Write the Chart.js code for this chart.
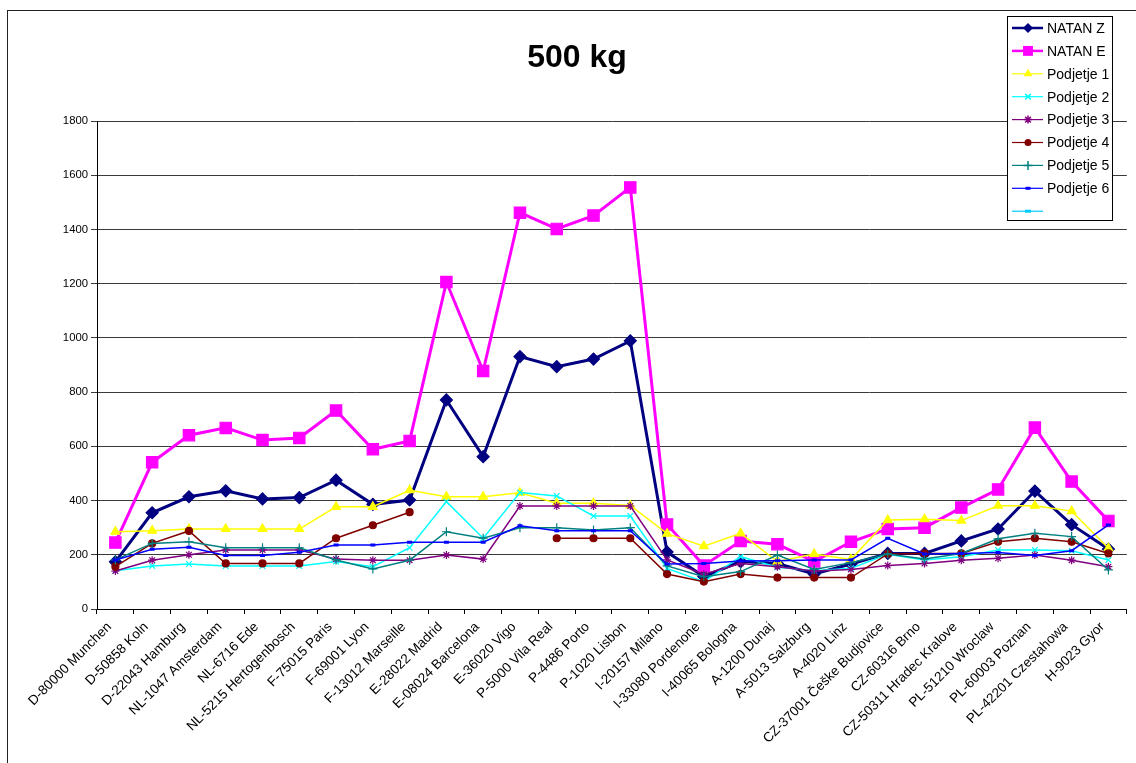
<!DOCTYPE html>
<html>
<head>
<meta charset="utf-8">
<title>500 kg</title>
<script src="https://cdn.jsdelivr.net/npm/chart.js@4/dist/chart.umd.min.js"></script>
<style>
  html, body { margin: 0; padding: 0; background: #fff; }
  #c { display: block; }
</style>
</head>
<body>
<canvas id="c" width="1136" height="763"></canvas>
<script>
// Destinations along the x axis
const destinations = ['D-80000 Munchen', 'D-50858 Koln', 'D-22043 Hamburg', 'NL-1047 Amsterdam', 'NL-6716 Ede',
  'NL-5215 Hertogenbosch', 'F-75015 Paris', 'F-69001 Lyon', 'F-13012 Marseille', 'E-28022 Madrid',
  'E-08024 Barcelona', 'E-36020 Vigo', 'P-5000 Vila Real', 'P-4486 Porto', 'P-1020 Lisbon', 'I-20157 Milano',
  'I-33080 Pordenone', 'I-40065 Bologna', 'A-1200 Dunaj', 'A-5013 Salzburg', 'A-4020 Linz',
  'CZ-37001 Češke Budjovice', 'CZ-60316 Brno', 'CZ-50311 Hradec Kralove', 'PL-51210 Wroclaw',
  'PL-60003 Poznan', 'PL-42201 Czestahowa', 'H-9023 Gyor'];

// Prices for a 500 kg shipment
const natanZ = [174, 355, 414, 436, 406, 411, 475, 386, 402, 771, 562, 931, 894, 922, 989, 210, 120, 175, 168, 129, 166, 205, 205, 251, 295, 435, 311, 221];
const natanE = [245, 541, 641, 668, 623, 631, 732, 589, 620, 1206, 878, 1462, 1402, 1451, 1555, 312, 160, 251, 239, 175, 248, 295, 300, 374, 441, 669, 470, 325];
const podjetje1 = [285, 289, 295, 295, 295, 295, 377, 377, 438, 414, 414, 429, 390, 390, 382, 278, 232, 279, 175, 203, 183, 328, 331, 326, 381, 381, 361, 224];
const podjetje2 = [141, 159, 166, 159, 159, 159, 175, 156, 226, 396, 261, 430, 417, 343, 343, 150, 101, 193, 154, 141, 150, 202, 181, 193, 218, 218, 215, 181];
const podjetje3 = [140, 180, 200, 218, 218, 218, 184, 180, 180, 199, 184, 380, 380, 380, 380, 181, 128, 168, 156, 140, 146, 160, 168, 180, 187, 199, 180, 156];
const podjetje4 = [156, 242, 288, 168, 168, 168, 261, 309, 357, null, null, null, 261, 261, 261, 129, 101, 129, 116, 116, 116, 203, 205, 205, 248, 261, 248, 205];
const podjetje5 = [181, 242, 248, 226, 226, 226, 181, 148, 180, 285, 261, 300, 300, 291, 300, 159, 119, 138, 199, 146, 171, 203, 184, 205, 259, 279, 267, 144];
const podjetje6 = [181, 220, 228, 197, 197, 209, 236, 236, 246, 246, 246, 307, 289, 289, 289, 166, 168, 177, 178, 181, 181, 261, 203, 205, 208, 197, 215, 310];
const unnamedSeries = [];

const yTicks = { min: 0, max: 1800, step: 200 };

const seriesStyles = [
  { label: 'NATAN Z',    data: natanZ,        color: '#000080', width: 3,   point: 'rectRot',  radius: 6 },
  { label: 'NATAN E',    data: natanE,        color: '#FF00FF', width: 3,   point: 'rect',     radius: 8 },
  { label: 'Podjetje 1', data: podjetje1,     color: '#FFFF00', width: 1.5, point: 'triangle', radius: 5 },
  { label: 'Podjetje 2', data: podjetje2,     color: '#00FFFF', width: 1.5, point: 'crossRot', radius: 4 },
  { label: 'Podjetje 3', data: podjetje3,     color: '#800080', width: 1.5, point: 'star',     radius: 4 },
  { label: 'Podjetje 4', data: podjetje4,     color: '#800000', width: 1.5, point: 'circle',   radius: 3.5 },
  { label: 'Podjetje 5', data: podjetje5,     color: '#008080', width: 1.5, point: 'cross',    radius: 4.5 },
  { label: 'Podjetje 6', data: podjetje6,     color: '#0000FF', width: 1.5, point: 'line',     radius: 2.5 },
  { label: '',           data: unnamedSeries, color: '#00CCFF', width: 1.5, point: 'line',     radius: 3 }
];

const FONT = '"Liberation Sans", Arial, sans-serif';

// Small marker painter for the legend box
function drawMarker(ctx, style, x, y, r, color) {
  ctx.save();
  ctx.fillStyle = color;
  ctx.strokeStyle = color;
  ctx.lineWidth = 1.5;
  ctx.beginPath();
  switch (style) {
    case 'rectRot':
      ctx.moveTo(x, y - r); ctx.lineTo(x + r, y); ctx.lineTo(x, y + r); ctx.lineTo(x - r, y); ctx.closePath(); ctx.fill();
      break;
    case 'rect': {
      const s = r * Math.SQRT1_2;
      ctx.rect(x - s, y - s, 2 * s, 2 * s); ctx.fill();
      break;
    }
    case 'triangle': {
      const w = r * Math.sqrt(3) / 2;
      ctx.moveTo(x, y - r); ctx.lineTo(x + w, y + r / 2); ctx.lineTo(x - w, y + r / 2); ctx.closePath(); ctx.fill();
      break;
    }
    case 'crossRot': {
      const d = r * Math.SQRT1_2;
      ctx.moveTo(x - d, y - d); ctx.lineTo(x + d, y + d); ctx.moveTo(x + d, y - d); ctx.lineTo(x - d, y + d); ctx.stroke();
      break;
    }
    case 'cross':
      ctx.moveTo(x - r, y); ctx.lineTo(x + r, y); ctx.moveTo(x, y - r); ctx.lineTo(x, y + r); ctx.stroke();
      break;
    case 'star': {
      const d = r * Math.SQRT1_2;
      ctx.moveTo(x - r, y); ctx.lineTo(x + r, y); ctx.moveTo(x, y - r); ctx.lineTo(x, y + r);
      ctx.moveTo(x - d, y - d); ctx.lineTo(x + d, y + d); ctx.moveTo(x + d, y - d); ctx.lineTo(x - d, y + d); ctx.stroke();
      break;
    }
    case 'circle':
      ctx.arc(x, y, r, 0, Math.PI * 2); ctx.fill();
      break;
    case 'line':
      ctx.lineWidth = 3;
      ctx.moveTo(x - r, y); ctx.lineTo(x + r, y); ctx.stroke();
      break;
  }
  ctx.restore();
}

// Outer frame, title and the boxed legend at the top right
const decorations = {
  id: 'decorations',
  beforeDraw(chart) {
    const ctx = chart.ctx;
    ctx.save();
    ctx.fillStyle = '#fff';
    ctx.fillRect(0, 0, chart.width, chart.height);
    ctx.strokeStyle = '#222';
    ctx.lineWidth = 1;
    ctx.strokeRect(7.5, 10.5, chart.width + 10, chart.height + 10);
    ctx.fillStyle = '#000';
    ctx.font = 'bold 32px ' + FONT;
    ctx.textAlign = 'center';
    ctx.textBaseline = 'alphabetic';
    ctx.fillText('500 kg', 577, 67);
    ctx.restore();
  },
  afterDraw(chart) {
    const ctx = chart.ctx;
    const box = { x: 1007.5, y: 16.5, w: 105, h: 204 };
    ctx.save();
    ctx.fillStyle = '#fff';
    ctx.fillRect(box.x, box.y, box.w, box.h);
    ctx.strokeStyle = '#000';
    ctx.lineWidth = 1;
    ctx.strokeRect(box.x, box.y, box.w, box.h);
    ctx.font = '14px ' + FONT;
    ctx.textBaseline = 'middle';
    ctx.textAlign = 'left';
    seriesStyles.forEach((s, i) => {
      const y = 28 + i * 22.9;
      ctx.strokeStyle = s.color;
      ctx.lineWidth = s.width >= 3 ? 2.5 : 1.2;
      ctx.beginPath();
      ctx.moveTo(1012, y);
      ctx.lineTo(1043, y);
      ctx.stroke();
      const r = s.point === 'rect' ? 7 : (s.point === 'rectRot' ? 5 : s.radius);
      drawMarker(ctx, s.point, 1028, y, r, s.color);
      ctx.fillStyle = '#000';
      ctx.fillText(s.label, 1047, y + 1);
    });
    ctx.restore();
  }
};

const datasets = seriesStyles.map((s, i) => ({
  label: s.label,
  data: s.data,
  borderColor: s.color,
  backgroundColor: s.color,
  borderWidth: s.width,
  pointStyle: s.point,
  pointRadius: s.radius,
  pointHoverRadius: s.radius,
  pointBorderWidth: s.point === 'line' ? 3 : 1.2,
  pointBackgroundColor: s.color,
  pointBorderColor: s.color,
  tension: 0,
  spanGaps: false,
  fill: false,
  order: -i
}));

new Chart(document.getElementById('c'), {
  type: 'line',
  data: { labels: destinations, datasets },
  plugins: [decorations],
  options: {
    responsive: false,
    animation: false,
    devicePixelRatio: 1,
    layout: { padding: { top: 121, left: 0, right: 0, bottom: 0 } },
    plugins: {
      legend: { display: false },
      title: { display: false },
      tooltip: { enabled: false }
    },
    scales: {
      x: {
        type: 'category',
        offset: true,
        afterFit: (scale) => { scale.height = 154; },
        grid: { display: true, drawOnChartArea: false, drawTicks: true, tickLength: 5, color: '#000', offset: true },
        border: { color: '#000', width: 1 },
        ticks: {
          autoSkip: false,
          minRotation: 45,
          maxRotation: 45,
          padding: 5,
          labelOffset: -6,
          color: '#000',
          font: { family: FONT, size: 13.5 }
        }
      },
      y: {
        min: yTicks.min,
        max: yTicks.max,
        afterFit: (scale) => { scale.width = 97; },
        grid: { color: '#3a3a3a', lineWidth: 1, tickLength: 6, drawTicks: true },
        border: { color: '#000', width: 1 },
        ticks: {
          stepSize: yTicks.step,
          padding: 3,
          color: '#000',
          font: { family: FONT, size: 11.3 },
          callback: (value) => String(value)
        }
      }
    }
  }
});
</script>
</body>
</html>
